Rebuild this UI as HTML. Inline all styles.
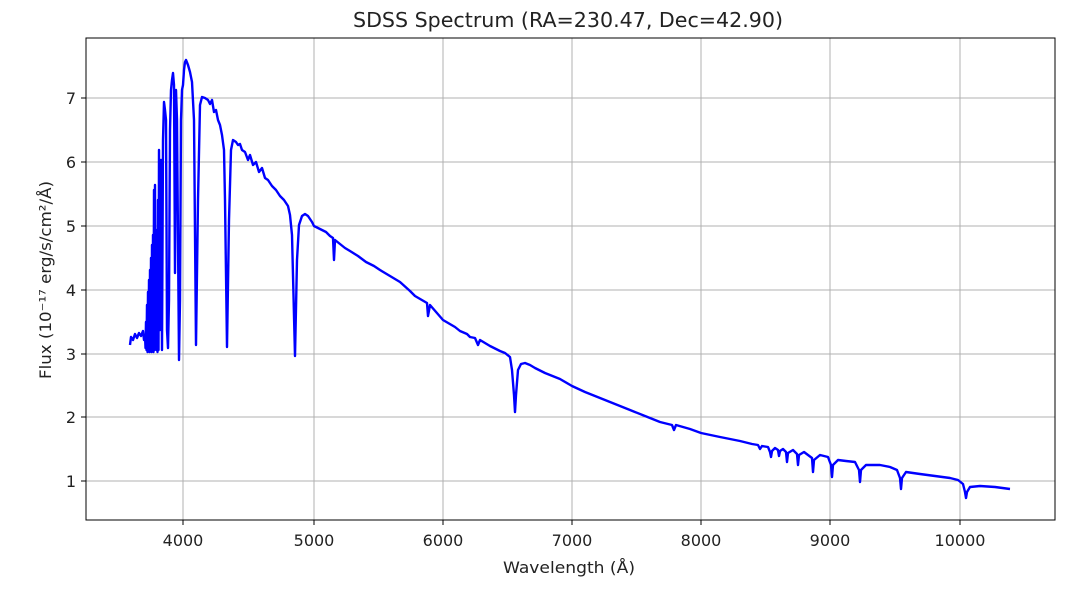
<!DOCTYPE html>
<html><head><meta charset="utf-8"><style>
body{margin:0;background:#fff;}
text{font-family:"DejaVu Sans","Liberation Sans",sans-serif;fill:#222;}
</style></head><body>
<svg width="1081" height="584" viewBox="0 0 1081 584" xmlns="http://www.w3.org/2000/svg">
<rect width="1081" height="584" fill="#fff"/>
<g stroke="#b0b0b0" stroke-width="1">
<line x1="183" y1="38" x2="183" y2="520"/><line x1="314" y1="38" x2="314" y2="520"/>
<line x1="443" y1="38" x2="443" y2="520"/><line x1="572" y1="38" x2="572" y2="520"/>
<line x1="701" y1="38" x2="701" y2="520"/><line x1="830" y1="38" x2="830" y2="520"/>
<line x1="960" y1="38" x2="960" y2="520"/>
<line x1="86" y1="98" x2="1055" y2="98"/><line x1="86" y1="162" x2="1055" y2="162"/>
<line x1="86" y1="226" x2="1055" y2="226"/><line x1="86" y1="290" x2="1055" y2="290"/>
<line x1="86" y1="354" x2="1055" y2="354"/><line x1="86" y1="417" x2="1055" y2="417"/>
<line x1="86" y1="481" x2="1055" y2="481"/>
</g>
<polyline fill="none" stroke="#0000ff" stroke-width="2.4" stroke-linejoin="round" points="
130,345 131,337 133,340 135,334 137,338 139,333 141,336 143,331 144,340 145,335 145.5,348 146,322 146.5,350 147,305 147.5,352 148,292 148.5,350 149,280 149.5,352 150,270 150.5,350 151,258 151.5,352 152,245 152.5,350 153,235 153.5,352 154,190 154.5,350 155,185 155.5,345 156,230 156.5,350 157,240 157.5,352 158,200 158.5,350 159,150 160,330 161,160 162,350 163,140 164,102 165,110 166,120 167,330 168,348 169,300 170,130 171,90 172,80 173,73 174,85 175,273 176,90 177,120 178,240 179,360 180,300 181,120 182,90 183,85 184,70 185,62 186,60 188,65 190,72 192,82 194,120 196,345 198,200 200,105 202,97 205,98 208,100 210,104 212,100 214,112 216,110 218,120 220,125 222,135 224,150 225,200 227,347 229,220 231,150 233,140 236,142 238,145 240,144 242,150 245,152 248,160 250,155 253,165 256,162 259,172 262,168 265,178 268,180 272,186 276,190 280,196 284,200 288,206 290,215 292,235 295,356 297,260 299,225 302,216 305,214 308,216 312,222 314,226 318,228 322,230 326,232 330,236 333,238 334,260 335,240 340,244 345,248 350,251 358,256 366,262 374,266 380,270 390,276 400,282 410,291 415,296 427,303 428,316 430,305 443,320 455,327 460,331 467,334 470,337 475,338 478,345 480,340 490,346 500,351 505,353 510,357 512,370 514,395 515,412 516,395 518,370 521,364 525,363 530,365 535,368 545,373 560,379 572,386 585,392 600,398 615,404 630,410 645,416 660,422 672,425 674,430 676,425 690,429 701,433 720,437 740,441 752,444 758,445 760,449 762,446 768,447 770,452 771,457 772,451 775,448 778,450 779,456 780,451 783,449 786,452 787,462 788,453 793,450 797,454 798,465 799,455 804,452 812,458 813,472 814,460 820,455 828,457 831,465 832,477 833,465 838,460 846,461 855,462 859,470 860,482 861,470 866,465 880,465 890,467 897,470 900,478 901,489 902,478 906,472 920,474 935,476 950,478 958,480 963,484 965,492 966,498 967,492 970,487 980,486 995,487 1010,489"/>
<rect x="86" y="38" width="969" height="482" fill="none" stroke="#000" stroke-width="1"/>
<g stroke="#000" stroke-width="1">
<line x1="183" y1="520" x2="183" y2="525"/><line x1="314" y1="520" x2="314" y2="525"/>
<line x1="443" y1="520" x2="443" y2="525"/><line x1="572" y1="520" x2="572" y2="525"/>
<line x1="701" y1="520" x2="701" y2="525"/><line x1="830" y1="520" x2="830" y2="525"/>
<line x1="960" y1="520" x2="960" y2="525"/>
<line x1="81" y1="98" x2="86" y2="98"/><line x1="81" y1="162" x2="86" y2="162"/>
<line x1="81" y1="226" x2="86" y2="226"/><line x1="81" y1="290" x2="86" y2="290"/>
<line x1="81" y1="354" x2="86" y2="354"/><line x1="81" y1="417" x2="86" y2="417"/>
<line x1="81" y1="481" x2="86" y2="481"/>
</g>
<g font-size="16" text-anchor="middle">
<text x="183" y="546">4000</text><text x="314" y="546">5000</text><text x="443" y="546">6000</text>
<text x="572" y="546">7000</text><text x="701" y="546">8000</text><text x="830" y="546">9000</text>
<text x="960" y="546">10000</text>
</g>
<g font-size="16" text-anchor="end">
<text x="76" y="104">7</text><text x="76" y="168">6</text><text x="76" y="232">5</text>
<text x="76" y="296">4</text><text x="76" y="360">3</text><text x="76" y="423">2</text>
<text x="76" y="487">1</text>
</g>
<text x="569" y="573" font-size="16" text-anchor="middle" textLength="132" lengthAdjust="spacingAndGlyphs">Wavelength (Å)</text>
<text transform="translate(51,280) rotate(-90)" font-size="16" text-anchor="middle" textLength="198" lengthAdjust="spacingAndGlyphs">Flux (10⁻¹⁷ erg/s/cm²/Å)</text>
<text x="568" y="27" font-size="20" text-anchor="middle" textLength="430" lengthAdjust="spacingAndGlyphs">SDSS Spectrum (RA=230.47, Dec=42.90)</text>
</svg>
</body></html>
